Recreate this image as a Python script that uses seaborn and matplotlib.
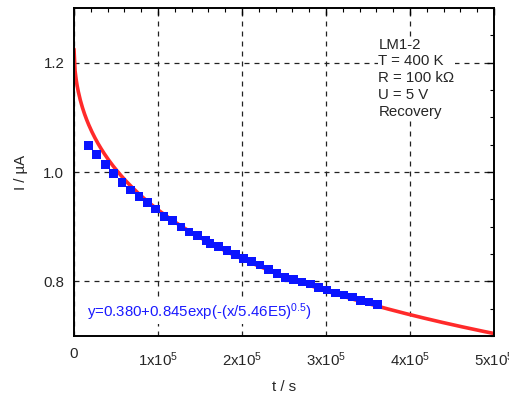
import numpy as np
import pandas as pd
import seaborn as sns
import matplotlib
matplotlib.use("Agg")
import matplotlib.pyplot as plt
from matplotlib.ticker import MultipleLocator, FixedLocator

t_s = [0.175e5, 0.27e5, 0.373e5, 0.472e5, 0.571e5, 0.670e5, 0.774e5, 0.873e5,
       0.973e5, 1.071e5, 1.17e5, 1.274e5, 1.369e5, 1.473e5, 1.571e5, 1.619e5,
       1.723e5, 1.821e5, 1.920e5, 2.015e5, 2.115e5, 2.214e5, 2.318e5, 2.417e5,
       2.512e5, 2.615e5, 2.714e5, 2.813e5, 2.913e5, 3.012e5, 3.115e5, 3.214e5,
       3.313e5, 3.413e5, 3.512e5, 3.611e5]
i_uA = [1.048, 1.032, 1.014, 0.997, 0.981, 0.967, 0.955, 0.944,
        0.932, 0.919, 0.911, 0.899, 0.890, 0.884, 0.875, 0.869,
        0.864, 0.856, 0.849, 0.842, 0.836, 0.830, 0.822, 0.814,
        0.807, 0.803, 0.799, 0.795, 0.789, 0.784, 0.779, 0.775,
        0.771, 0.765, 0.762, 0.758]

# stretched exponential fit parameters (from the annotation)
fit_y0 = 0.380
fit_a = 0.845
fit_tau = 5.46e5
fit_beta = 0.5

x_ticks = [0, 1e5, 2e5, 3e5, 4e5, 5e5]
x_labels = ["0", "1x10$^{5}$", "2x10$^{5}$", "3x10$^{5}$", "4x10$^{5}$", "5x10$^{5}$"]
y_ticks = [0.8, 1.0, 1.2]
y_labels = ["0.8", "1.0", "1.2"]

sns.set_style("white")
plt.rcParams["font.family"] = ["Liberation Sans", "DejaVu Sans"]
plt.rcParams["mathtext.default"] = "regular"

df = pd.DataFrame({"t": t_s, "I": i_uA})
t_fit = np.linspace(0, 5e5, 400)
fit = pd.DataFrame({"t": t_fit,
                    "I": fit_y0 + fit_a * np.exp(-(t_fit / fit_tau) ** fit_beta)})

fs = 10.8
fig = plt.figure(figsize=(5.1, 3.96), dpi=100)
ax = fig.add_axes([74 / 510, 1 - 336 / 396, (494 - 74) / 510, (336 - 8) / 396])

sns.lineplot(data=fit, x="t", y="I", color="#ff2a2a", lw=2.6, ax=ax, zorder=2)
sns.scatterplot(data=df, x="t", y="I", marker="s", s=38, color="#0a14ff",
                edgecolor="none", ax=ax, zorder=3)

ax.set_xlim(0, 5e5)
ax.set_ylim(0.7, 1.3)
ax.xaxis.set_major_locator(FixedLocator(x_ticks))
ax.set_xticklabels(x_labels)
ax.yaxis.set_major_locator(FixedLocator(y_ticks))
ax.set_yticklabels(y_labels)
ax.xaxis.set_minor_locator(MultipleLocator(2e4))
ax.yaxis.set_minor_locator(MultipleLocator(0.05))

ax.tick_params(which="both", direction="in", top=True, right=True, color="black")
ax.tick_params(which="major", length=5, width=1, labelsize=fs)
ax.tick_params(axis="x", which="major", pad=8)
ax.tick_params(axis="y", which="major", pad=7)
ax.tick_params(which="minor", length=3, width=0.8)
for lbl in ax.get_xticklabels()[1:]:
    lbl.set_y(-0.01)

ax.grid(True, which="major", ls=(0, (4, 4)), color="#222222", lw=0.9)
for s in ax.spines.values():
    s.set_color("black")
    s.set_linewidth(1.4)

ax.set_xlabel("t / s", fontsize=fs, labelpad=8)
ax.set_ylabel("I / \u00b5A", fontsize=fs, labelpad=11)

ax.text(0.725, 0.91, "LM1-2\nT = 400 K\nR = 100 k\u03a9\nU = 5 V\nRecovery",
        transform=ax.transAxes, fontsize=fs, va="top", ha="left", linespacing=1.25,
        bbox=dict(facecolor="white", edgecolor="none", pad=0.5))
ax.text(0.03, 0.073, "y=0.380+0.845exp(-(x/5.46E5)$^{0.5}$)", transform=ax.transAxes,
        fontsize=fs, color="#1a1aff", va="center", ha="left",
        bbox=dict(facecolor="white", edgecolor="none", pad=0.5))

fig.savefig("out.png", dpi=100)
